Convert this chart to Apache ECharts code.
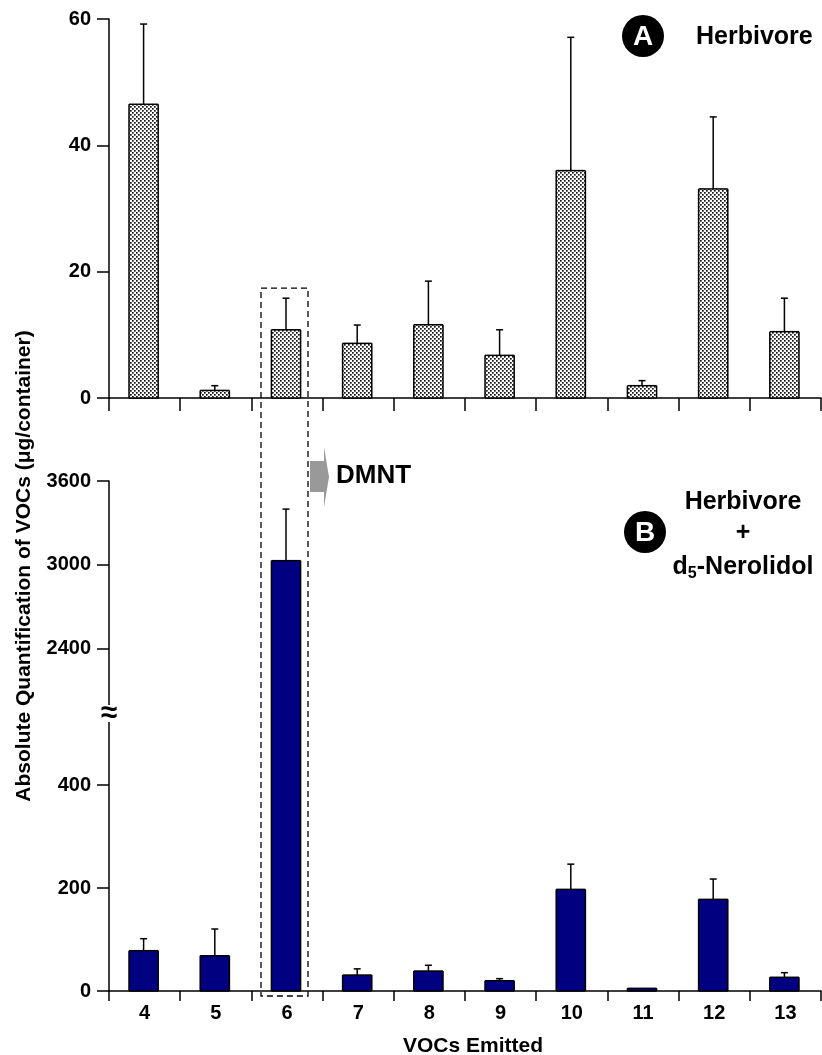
<!DOCTYPE html>
<html>
<head>
<meta charset="utf-8">
<script src="https://cdn.jsdelivr.net/npm/echarts@6/dist/echarts.min.js"></script>
<style>
html,body{margin:0;padding:0;background:#fff;}
#chart{width:822px;height:1055px;}
</style>
</head>
<body>
<div id="chart"></div>
<script>
// ---- data ----
const categories = ['4', '5', '6', '7', '8', '9', '10', '11', '12', '13'];
const herbivoreMean = [46.5, 1.2, 10.8, 8.65, 11.6, 6.75, 36.0, 1.95, 33.1, 10.5];
const herbivoreSE   = [12.7, 0.75, 5.0, 2.9, 6.9, 4.05, 21.1, 0.8, 11.4, 5.3];
const nerolidolMean = [78.3, 68.5, 3030, 31, 38.8, 20, 197.4, 5.2, 178, 26.6];
const nerolidolSE   = [23.3, 51.9, 369, 12, 11.2, 4, 49, 0, 39.5, 9];
const panelATicks = [0, 20, 40, 60];
const panelBUpperTicks = [2400, 3000, 3600];
const panelBLowerTicks = [0, 200, 400];
const dmntIndex = 2;          // category "6"
const dmntBoxTopValue = 17.4; // top of dashed box in panel A units

const FONT = "'Liberation Sans', Arial, Helvetica, sans-serif";

function makeStipple() {
  const c = document.createElement('canvas');
  c.width = 8; c.height = 8;
  const g = c.getContext('2d');
  g.fillStyle = '#ffffff'; g.fillRect(0, 0, 8, 8);
  g.fillStyle = '#151515';
  [[0, 0], [4, 0], [2, 2], [6, 2], [0, 4], [4, 4], [2, 6], [6, 6]]
    .forEach(p => g.fillRect(p[0], p[1], 1.7, 1.7));
  return c;
}
const stipple = { image: makeStipple(), repeat: 'repeat' };

function makeBarRenderer(fill) {
  return function (params, api) {
    const ci = api.value(0), v = api.value(1), se = api.value(2);
    const cs = params.coordSys;
    const bw = api.size([1, 0])[0] * 0.41;
    const base = api.coord([ci, 0]);
    const topP = api.coord([ci, v]);
    const cx = base[0] - 1;
    const x0 = cx - bw / 2, x1 = cx + bw / 2;
    const gTop = cs.y, gBot = cs.y + cs.height;
    const yTopRaw = topP[1], yBotRaw = base[1];
    const yT = Math.max(yTopRaw, gTop), yB = Math.min(yBotRaw, gBot);
    if (yB - yT <= 0.5) return null;
    const ls = { stroke: '#000', lineWidth: 1.5 };
    const children = [
      { type: 'rect', shape: { x: x0, y: yT, width: bw, height: yB - yT }, style: { fill: fill, stroke: null } },
      { type: 'line', shape: { x1: x0, y1: yT, x2: x0, y2: yB }, style: ls },
      { type: 'line', shape: { x1: x1, y1: yT, x2: x1, y2: yB }, style: ls }
    ];
    if (yTopRaw >= gTop - 0.5) children.push({ type: 'line', shape: { x1: x0, y1: yT, x2: x1, y2: yT }, style: ls });
    if (yBotRaw <= gBot + 0.5) children.push({ type: 'line', shape: { x1: x0, y1: yB, x2: x1, y2: yB }, style: ls });
    if (se > 0 && yTopRaw >= gTop && yTopRaw <= gBot) {
      const yE = api.coord([ci, v + se])[1];
      if (yE >= gTop - 1) {
        children.push({ type: 'line', shape: { x1: cx, y1: yTopRaw, x2: cx, y2: yE }, style: ls });
        children.push({ type: 'line', shape: { x1: cx - 3.5, y1: yE, x2: cx + 3.5, y2: yE }, style: ls });
      }
    }
    return { type: 'group', children: children };
  };
}

const dataA = categories.map((c, i) => [i, herbivoreMean[i], herbivoreSE[i]]);
const dataB = categories.map((c, i) => [i, nerolidolMean[i], nerolidolSE[i]]);

const axisLineStyle = { color: '#000', width: 1.5 };
const labelStyle = { color: '#000', fontFamily: FONT, fontWeight: 'bold', fontSize: 20 };
const plain = v => String(v);

const chart = echarts.init(document.getElementById('chart'), null, { renderer: 'canvas' });

const option = {
  animation: false,
  backgroundColor: '#fff',
  grid: [
    { left: 109, top: 19, width: 712, height: 379 },
    { left: 109, top: 481, width: 712, height: 232 },
    { left: 109, top: 713, width: 712, height: 278 }
  ],
  xAxis: [
    { gridIndex: 0, type: 'category', data: categories, boundaryGap: true,
      axisLine: { show: true, lineStyle: axisLineStyle },
      axisTick: { show: true, length: 13, lineStyle: axisLineStyle },
      axisLabel: { show: false }, splitLine: { show: false } },
    { gridIndex: 1, type: 'category', data: categories, boundaryGap: true, show: false },
    { gridIndex: 2, type: 'category', data: categories, boundaryGap: true,
      axisLine: { show: true, lineStyle: axisLineStyle },
      axisTick: { show: true, length: 10, lineStyle: axisLineStyle },
      axisLabel: Object.assign({ show: true, margin: 12 }, labelStyle), splitLine: { show: false } }
  ],
  yAxis: [
    { gridIndex: 0, type: 'value', min: 0, max: 60, interval: 20,
      axisLine: { show: true, lineStyle: axisLineStyle },
      axisTick: { show: true, length: 12, lineStyle: axisLineStyle, customValues: panelATicks },
      axisLabel: Object.assign({ margin: 18, customValues: panelATicks, formatter: plain }, labelStyle),
      splitLine: { show: false } },
    { gridIndex: 1, type: 'value', min: 1940, max: 3600,
      axisLine: { show: true, lineStyle: axisLineStyle },
      axisTick: { show: true, length: 12, lineStyle: axisLineStyle, customValues: panelBUpperTicks },
      axisLabel: Object.assign({ margin: 18, customValues: panelBUpperTicks, formatter: plain }, labelStyle),
      splitLine: { show: false } },
    { gridIndex: 2, type: 'value', min: 0, max: 540,
      axisLine: { show: true, lineStyle: axisLineStyle },
      axisTick: { show: true, length: 12, lineStyle: axisLineStyle, customValues: panelBLowerTicks },
      axisLabel: Object.assign({ margin: 18, customValues: panelBLowerTicks, formatter: plain }, labelStyle),
      splitLine: { show: false } }
  ],
  series: [
    { type: 'custom', name: 'Herbivore', xAxisIndex: 0, yAxisIndex: 0,
      dimensions: ['cat', 'mean', 'se'], encode: { x: 0, y: 1 },
      renderItem: makeBarRenderer(stipple), data: dataA, z: 3 },
    { type: 'custom', name: 'Herbivore + d5-Nerolidol (upper)', xAxisIndex: 1, yAxisIndex: 1,
      dimensions: ['cat', 'mean', 'se'], encode: { x: 0, y: 1 },
      renderItem: makeBarRenderer('#000080'), data: dataB, z: 3 },
    { type: 'custom', name: 'Herbivore + d5-Nerolidol (lower)', xAxisIndex: 2, yAxisIndex: 2,
      dimensions: ['cat', 'mean', 'se'], encode: { x: 0, y: 1 },
      renderItem: makeBarRenderer('#000080'), data: dataB, z: 3 }
  ]
};
chart.setOption(option);

// annotations positioned from the axes
const pTop = chart.convertToPixel({ xAxisIndex: 0, yAxisIndex: 0 }, [dmntIndex, dmntBoxTopValue]);
const pBot = chart.convertToPixel({ xAxisIndex: 2, yAxisIndex: 2 }, [dmntIndex, 0]);
const boxX0 = pTop[0] - 26, boxX1 = pTop[0] + 21;
const boxY0 = pTop[1], boxY1 = pBot[1] + 5;
const breakP = chart.convertToPixel({ xAxisIndex: 2, yAxisIndex: 2 }, [0, 540]);
const axX = 109;

chart.setOption({
  graphic: [
    // dashed highlight box around VOC 6
    { type: 'rect', z: 10, shape: { x: boxX0, y: boxY0, width: boxX1 - boxX0, height: boxY1 - boxY0 },
      style: { fill: null, stroke: '#000', lineWidth: 1.3, lineDash: [6, 4] } },
    // axis break
    { type: 'rect', z: 15, shape: { x: axX - 10, y: breakP[1] - 8, width: 20, height: 17 }, style: { fill: '#fff' } },
    { type: 'text', z: 16, x: axX, y: breakP[1] + 1,
      style: { text: '≈', font: 'bold 30px ' + FONT, fill: '#000', textAlign: 'center', textVerticalAlign: 'middle' } },
    // y-axis title
    { type: 'text', z: 20, x: 24, y: 566, rotation: Math.PI / 2,
      style: { text: 'Absolute Quantification of VOCs (μg/container)', font: 'bold 21px ' + FONT,
        fill: '#000', textAlign: 'center', textVerticalAlign: 'middle' } },
    // x-axis title
    { type: 'text', z: 20, x: 473, y: 1046,
      style: { text: 'VOCs Emitted', font: 'bold 21px ' + FONT, fill: '#000', textAlign: 'center', textVerticalAlign: 'middle' } },
    // panel A badge
    { type: 'circle', z: 20, shape: { cx: 643, cy: 36, r: 21 }, style: { fill: '#000' } },
    { type: 'text', z: 21, x: 643, y: 37,
      style: { text: 'A', font: 'bold 28px ' + FONT, fill: '#fff', textAlign: 'center', textVerticalAlign: 'middle' } },
    { type: 'text', z: 20, x: 696, y: 37,
      style: { text: 'Herbivore', font: 'bold 25px ' + FONT, fill: '#000', textAlign: 'left', textVerticalAlign: 'middle' } },
    // panel B badge
    { type: 'circle', z: 20, shape: { cx: 645, cy: 532, r: 21 }, style: { fill: '#000' } },
    { type: 'text', z: 21, x: 645, y: 533,
      style: { text: 'B', font: 'bold 28px ' + FONT, fill: '#fff', textAlign: 'center', textVerticalAlign: 'middle' } },
    { type: 'text', z: 20, x: 743, y: 502,
      style: { text: 'Herbivore', font: 'bold 25px ' + FONT, fill: '#000', textAlign: 'center', textVerticalAlign: 'middle' } },
    { type: 'text', z: 20, x: 743, y: 533,
      style: { text: '+', font: 'bold 25px ' + FONT, fill: '#000', textAlign: 'center', textVerticalAlign: 'middle' } },
    { type: 'text', z: 20, x: 743, y: 567,
      style: { text: '{m|d}{s|5}{m|-Nerolidol}', textAlign: 'center', textVerticalAlign: 'middle',
        rich: {
          m: { fill: '#000', fontSize: 25, fontWeight: 'bold', fontFamily: FONT, lineHeight: 30 },
          s: { fill: '#000', fontSize: 16, fontWeight: 'bold', fontFamily: FONT, lineHeight: 30, verticalAlign: 'bottom', padding: [10, 0, 0, 0] }
        } } },
    // DMNT arrow and label
    { type: 'polygon', z: 20, shape: { points: [[310, 461], [324, 461], [324, 447], [329, 477], [324, 507], [324, 492], [310, 492]] },
      style: { fill: '#999999' } },
    { type: 'text', z: 20, x: 336, y: 476,
      style: { text: 'DMNT', font: 'bold 26px ' + FONT, fill: '#000', textAlign: 'left', textVerticalAlign: 'middle' } }
  ]
});
</script>
</body>
</html>
